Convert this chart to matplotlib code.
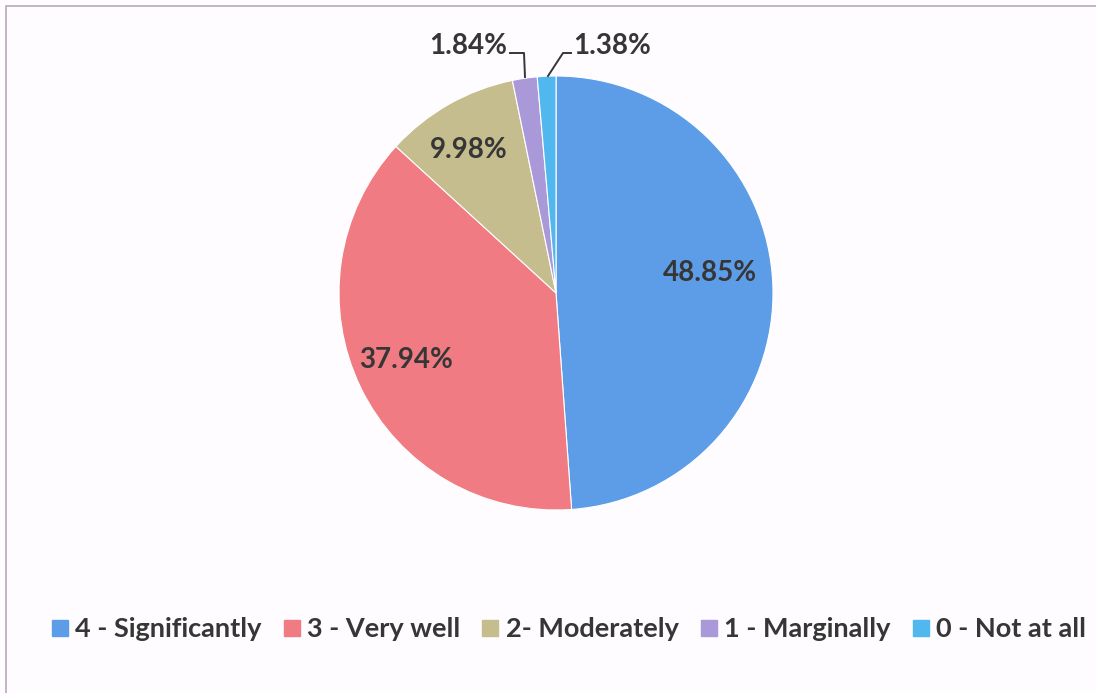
import matplotlib
matplotlib.use("Agg")
import matplotlib.pyplot as plt
from matplotlib.patches import Rectangle
from matplotlib.lines import Line2D

categories = ["4 - Significantly", "3 - Very well", "2- Moderately", "1 - Marginally", "0 - Not at all"]
values = [48.85, 37.94, 9.98, 1.84, 1.38]
pct_labels = ["48.85%", "37.94%", "9.98%", "1.84%", "1.38%"]
colors = ["#5d9de8", "#f07b82", "#c5bd8e", "#a999d9", "#50b7ef"]

plt.rcParams['font.family'] = ['Lato', 'DejaVu Sans']
W, H = 1096, 693
fig = plt.figure(figsize=(W / 100, H / 100), dpi=100, facecolor="#fefcfe")

# frame (only top and left visible, as in the scan)
fig.add_artist(Rectangle((6 / W, -0.1), 1.2, 1 - 6 / H + 0.1, transform=fig.transFigure,
                         fill=False, edgecolor="#b9a9bb", linewidth=1.2))

cx, cy, r = 556, 293, 217
ax = fig.add_axes([(cx - r) / W, (H - cy - r) / H, 2 * r / W, 2 * r / H])
ax.axis("off")

wedges, _ = ax.pie(values, colors=colors, startangle=90, counterclock=False, radius=1,
                   wedgeprops=dict(edgecolor="white", linewidth=0.8))
ax.set_xlim(-1, 1)
ax.set_ylim(-1, 1)

def d(px, py):
    return ((px - cx) / r, (cy - py) / r)

txt_kw = dict(fontsize=20, fontweight="bold", color="#363636", ha="center", va="center")
inner_pos = [d(710, 273), d(406, 360), d(469, 150)]
for lab, pos in zip(pct_labels[:3], inner_pos):
    ax.text(pos[0], pos[1], lab, **txt_kw)

# outside labels with leader lines
p = d(468, 46)
ax.text(p[0], p[1], pct_labels[3], **txt_kw)
p = d(612, 46)
ax.text(p[0], p[1], pct_labels[4], **txt_kw)
lx, ly = zip(d(510, 53), d(524, 53), d(525, 77))
ax.add_line(Line2D(lx, ly, color="#363636", linewidth=1.4, clip_on=False))
lx, ly = zip(d(571, 53), d(563, 53), d(548, 76))
ax.add_line(Line2D(lx, ly, color="#363636", linewidth=1.4, clip_on=False))

handles = [Line2D([0], [0], marker="s", linestyle="none", markersize=11.5,
                  markerfacecolor=c, markeredgecolor=c) for c in colors]
leg = fig.legend(handles, categories, loc="center", bbox_to_anchor=(569 / W, 1 - 629 / H),
                 ncol=5, frameon=False, handlelength=0.6, handletextpad=0.28,
                 columnspacing=0.8, prop=dict(size=19.5, weight="bold"))
for t in leg.get_texts():
    t.set_color("#363636")

fig.savefig("out.png", dpi=100, facecolor=fig.get_facecolor())
